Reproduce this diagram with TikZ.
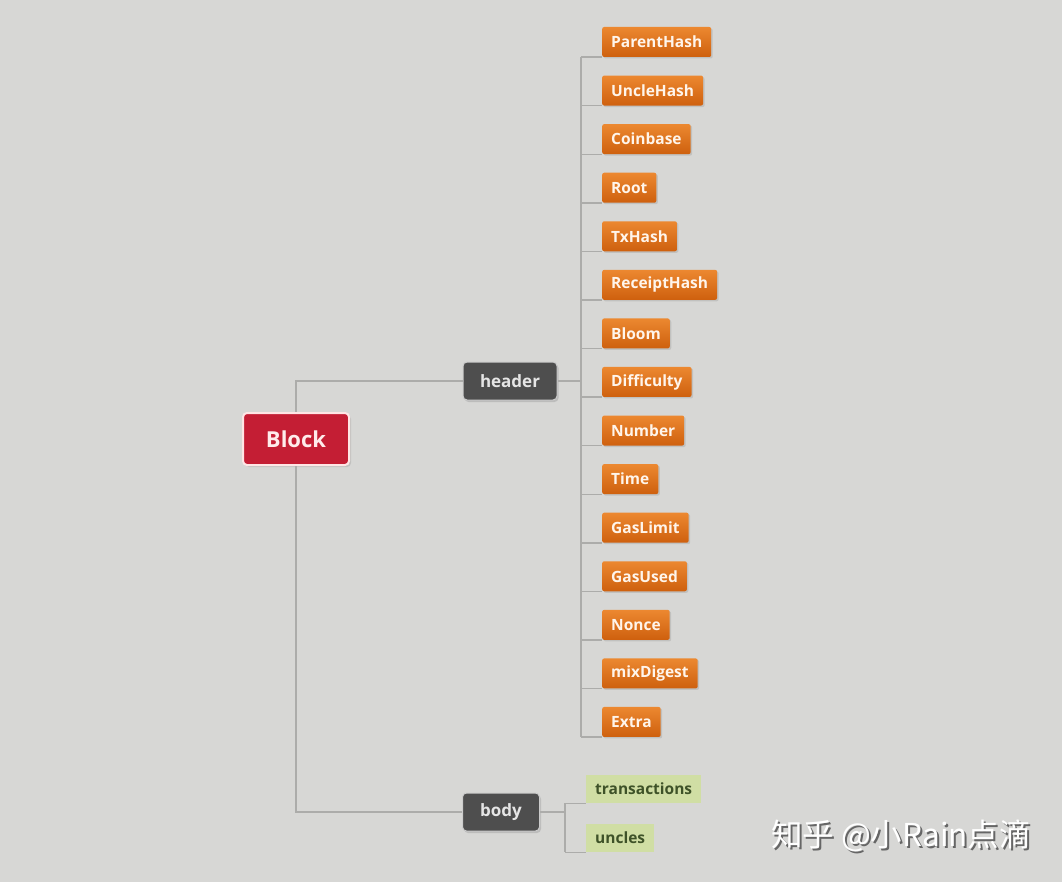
\documentclass[tikz,border=0pt]{standalone}
\usepackage{fontspec}
\setmainfont{Open Sans}
\newfontfamily\cjk{Noto Sans CJK SC}
\usetikzlibrary{shadows}
\definecolor{bg}{RGB}{215,215,213}
\definecolor{linkgray}{RGB}{172,172,170}
\definecolor{blockred}{RGB}{196,30,52}
\definecolor{darkbox}{RGB}{78,78,78}
\definecolor{orangetop}{RGB}{236,136,48}
\definecolor{orangebot}{RGB}{206,96,14}
\definecolor{greenbox}{RGB}{208,222,164}
\definecolor{greentext}{RGB}{62,82,40}
\tikzset{
  link/.style={draw=linkgray,line width=1.4pt},
  rootbox/.style={fill=blockred,draw=white!90!red,line width=2pt,rounded corners=4pt,
    text=white!92!red,font=\bfseries\fontsize{22}{26}\selectfont,
    minimum width=106pt,minimum height=52pt,drop shadow={opacity=.25,shadow xshift=2pt,shadow yshift=-2pt}},
  groupbox/.style={fill=darkbox,draw=white!80!black,line width=1pt,rounded corners=4pt,
    text=white!90!black,font=\bfseries\fontsize{17}{20}\selectfont,
    minimum height=38pt,inner xsep=10pt,drop shadow={opacity=.3,shadow xshift=1.5pt,shadow yshift=-2pt}},
  fieldbox/.style={top color=orangetop,bottom color=orangebot,draw=none,rounded corners=2pt,
    text=white!92!orange,font=\bfseries\fontsize{15.5}{18}\selectfont,anchor=west,
    minimum height=30pt,inner xsep=9pt,drop shadow={opacity=.25,shadow xshift=1.5pt,shadow yshift=-1.5pt}},
  bodybox/.style={fill=greenbox,draw=none,text=greentext,font=\bfseries\fontsize{15.5}{18}\selectfont,
    anchor=west,minimum height=28pt,inner xsep=9pt},
}
\begin{document}
\begin{tikzpicture}[x=1pt,y=-1pt]
  \useasboundingbox[fill=bg](0,0)rectangle(1062,882);
  % main nodes
  \node[rootbox] (block) at (296,439) {Block};
  \node[groupbox,minimum width=94pt] (header) at (510,381) {header};
  \node[groupbox,minimum width=77pt] (body) at (501,812) {body};
  % header fields
  \coordinate (hspine) at (581,0);
  \foreach \name [count=\i] in {ParentHash,UncleHash,Coinbase,Root,TxHash,ReceiptHash,
      Bloom,Difficulty,Number,Time,GasLimit,GasUsed,Nonce,mixDigest,Extra}{
    \node[fieldbox] (f\i) at (602,{42+48.57*(\i-1)}) {\name};
  }
  % body fields
  \coordinate (bspine) at (565,0);
  \node[bodybox] (tx) at (586,789) {transactions};
  \node[bodybox] (uncles) at (586,838) {uncles};
  % connectors
  \draw[link] (header.west) -| (block.north);
  \draw[link] (body.west) -| (block.south);
  \draw[link] (header.east) -- (header.east -| hspine);
  \draw[link] (hspine |- f1.south west) -- (hspine |- f15.south west);
  \foreach \i in {1,...,15}{
    \draw[link] (hspine |- f\i.south west) -- (f\i.south west);
  }
  \draw[link] (body.east) -- (body.east -| bspine);
  \draw[link] (bspine |- tx.south west) -- (bspine |- uncles.south west);
  \draw[link] (bspine |- tx.south west) -- (tx.south west);
  \draw[link] (bspine |- uncles.south west) -- (uncles.south west);
  % watermark
  \node[text=gray!80!black,font=\cjk\fontsize{31.5}{36}\selectfont] (markshadow) at (903,838) {知乎 @小Rain点滴};
  \node[text=white,font=\cjk\fontsize{31.5}{36}\selectfont] (mark) at (901,836) {知乎 @小Rain点滴};
\end{tikzpicture}
\end{document}
